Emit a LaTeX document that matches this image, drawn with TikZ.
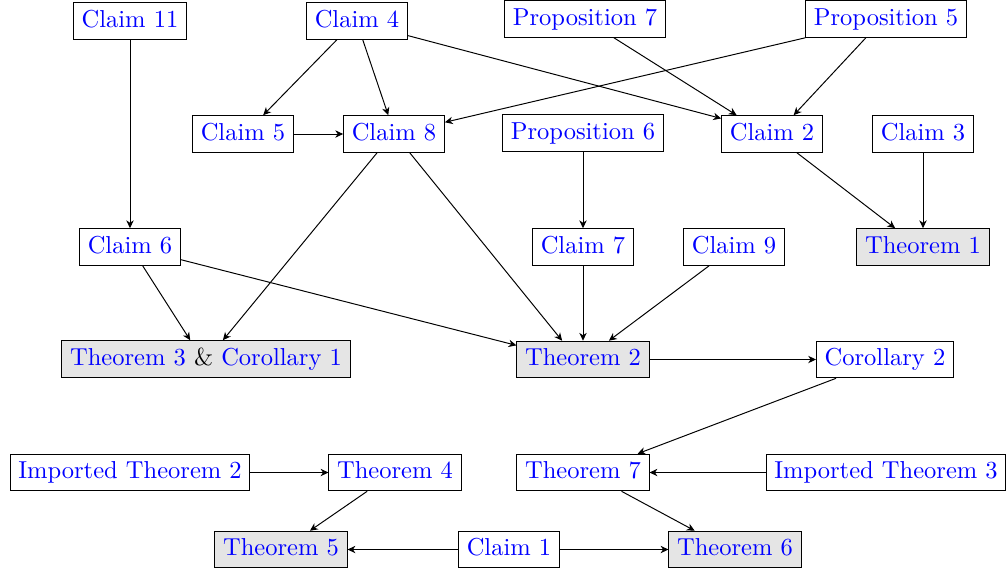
\documentclass[tikz,border=0pt]{standalone}
\usepackage{tikz}
\usetikzlibrary{arrows.meta}

\begin{document}
\begin{tikzpicture}[x=0.408pt, y=-0.408pt,
      every node/.style = {shape=rectangle, draw, text=blue, inner xsep=3.33pt, inner ysep=3pt, text height=7pt, text depth=1.94pt},
      thm/.style = {fill=black!10},
      dep/.style = {-{Stealth[length=3.2pt, width=3pt, inset=1pt]}}]
      \useasboundingbox (0,0) rectangle (1008,572);
      % first row
      \node (c11) at (130,21) {Claim 11};
      \node (c4) at (357,21) {Claim 4};
      \node (p7) at (585,19) {Proposition 7};
      \node (p5) at (886,19) {Proposition 5};
      % second row
      \node (c5) at (243,134) {Claim 5};
      \node (c8) at (394,134) {Claim 8};
      \node (p6) at (583,133) {Proposition 6};
      \node (c2) at (772,134) {Claim 2};
      \node (c3) at (923,134) {Claim 3};
      % third row
      \node (c6) at (130,247) {Claim 6};
      \node (c7) at (583,247) {Claim 7};
      \node (c9) at (734,247) {Claim 9};
      \node[thm] (t1) at (923,247) {Theorem 1};
      % fourth row
      \node[thm] (t3) at (206,359) {Theorem 3 \textcolor{black}{\&} Corollary 1};
      \node[thm] (t2) at (583,359.5) {Theorem 2};
      \node (cor2) at (885,359.5) {Corollary 2};
      % bottom part
      \node (it2) at (130,472.5) {Imported Theorem 2};
      \node (t4) at (395,472.5) {Theorem 4};
      \node (t7) at (583,472.5) {Theorem 7};
      \node (it3) at (886,472.5) {Imported Theorem 3};
      \node[thm] (t5) at (281,549.5) {Theorem 5};
      \node (c1) at (509,549.5) {Claim 1};
      \node[thm] (t6) at (735,549.5) {Theorem 6};

      \draw[dep] (c11) -- (c6);
      \draw[dep] (c4.223) -- (c5.43);
      \draw[dep] (c4.287) -- (c8.107);
      \draw[dep] (c4.344) -- (c2.163);
      \draw[dep] (p7.327) -- (c2.152);
      \draw[dep] (p5.223) -- (c2.41);
      \draw[dep] (p5.south west) -- (c8.13);
      \draw[dep] (c5) -- (c8);
      \draw[dep] (p6) -- (c7);
      \draw[dep] (c2.323) -- (t1.146);
      \draw[dep] (c3) -- (t1);
      \draw[dep] (c6.304) -- (t3.130);
      \draw[dep] (c8.228) -- (t3.48);
      \draw[dep] (c8.310) -- (t2.138);
      \draw[dep] (c6.346) -- (t2.168);
      \draw[dep] (c7) -- (t2);
      \draw[dep] (c9.217) -- (t2.36);
      \draw[dep] (t2) -- (cor2);
      \draw[dep] (cor2.201) -- (t7.19);
      \draw[dep] (it3) -- (t7);
      \draw[dep] (it2) -- (t4);
      \draw[dep] (t4.214) -- (t5.33);
      \draw[dep] (c1) -- (t5);
      \draw[dep] (c1) -- (t6);
      \draw[dep] (t7.334) -- (t6.155);
\end{tikzpicture}
\end{document}
